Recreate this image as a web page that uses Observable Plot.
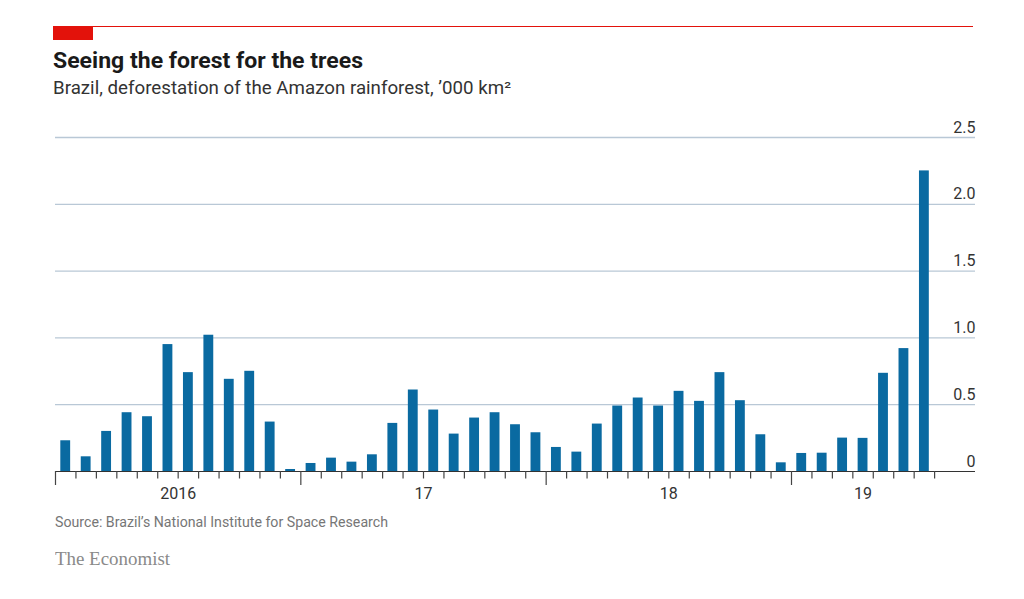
<!DOCTYPE html>
<html>
<head>
<meta charset="utf-8">
<script src="https://cdn.jsdelivr.net/npm/d3@7"></script>
<script src="https://cdn.jsdelivr.net/npm/@observablehq/plot@0.6"></script>
<style>
  html, body { margin: 0; padding: 0; background: #fff; }
  body { width: 1024px; height: 599px; position: relative; overflow: hidden; font-family: Roboto, "Noto Sans", sans-serif; }
  .abs { position: absolute; white-space: nowrap; transform-origin: left top; }
  #redline { left: 53px; top: 26px; width: 920px; height: 1px; background: #E3120B; }
  #redbox { left: 53px; top: 26px; width: 40px; height: 14px; background: #E3120B; }
  #title { left: 53px; top: 50px; font-size: 22px; line-height: 22px; font-weight: 700; color: #1a1a1a; }
  #subtitle { left: 53px; top: 79.5px; font-size: 17.5px; line-height: 17.5px; color: #333; }
  #source { left: 55px; top: 514.5px; font-size: 15.5px; line-height: 15.5px; color: #767676; }
  #brand { left: 55px; top: 549px; font-size: 19px; line-height: 19px; color: #8a8a8a; font-family: "Liberation Serif", "DejaVu Serif", serif; }
  #chart { position: absolute; left: 0; top: 110px; }
</style>
</head>
<body>
<div class="abs" id="redline"></div>
<div class="abs" id="redbox"></div>
<div class="abs" id="title">Seeing the forest for the trees</div>
<div class="abs" id="subtitle">Brazil, deforestation of the Amazon rainforest, ’000 km²</div>
<div id="chart"></div>
<div class="abs" id="source">Source: Brazil’s National Institute for Space Research</div>
<div class="abs" id="brand">The Economist</div>
<script>
const months = [
  "2016-01","2016-02","2016-03","2016-04","2016-05","2016-06","2016-07","2016-08","2016-09","2016-10","2016-11","2016-12",
  "2017-01","2017-02","2017-03","2017-04","2017-05","2017-06","2017-07","2017-08","2017-09","2017-10","2017-11","2017-12",
  "2018-01","2018-02","2018-03","2018-04","2018-05","2018-06","2018-07","2018-08","2018-09","2018-10","2018-11","2018-12",
  "2019-01","2019-02","2019-03","2019-04","2019-05","2019-06","2019-07"
];
const deforestation = [
  0.23, 0.11, 0.30, 0.44, 0.41, 0.95, 0.74, 1.02, 0.69, 0.75, 0.37, 0.015,
  0.06, 0.10, 0.07, 0.125, 0.36, 0.61, 0.46, 0.28, 0.40, 0.44, 0.35, 0.29,
  0.18, 0.145, 0.355, 0.49, 0.55, 0.49, 0.60, 0.525, 0.74, 0.53, 0.275, 0.065,
  0.135, 0.137, 0.25, 0.248, 0.735, 0.92, 2.25
];
const yTicks = [0, 0.5, 1, 1.5, 2, 2.5];
const yTickLabels = ["0", "0.5", "1.0", "1.5", "2.0", "2.5"];
const years = ["2016", "2017", "2018", "2019"];
const yearLabels = ["2016", "17", "18", "19"];

const start = months[0].split("-").map(Number);
const data = months.map((m, k) => {
  const [yy, mm] = m.split("-").map(Number);
  const i = (yy - start[0]) * 12 + (mm - start[1]);
  return { month: m, year: String(yy), i, value: deforestation[k] };
});
const n = data.length;
const monthTicks = d3.range(0, n + 1);
const yearStartTicks = data.filter(d => d.month.endsWith("-01")).map(d => d.i);
const yearCenters = years.map(y => {
  const ds = data.filter(d => d.year === y);
  return (d3.min(ds, d => d.i) + d3.max(ds, d => d.i) + 1) / 2;
});

const chart = Plot.plot({
  width: 1024,
  height: 400,
  marginLeft: 55,
  marginRight: 49,
  marginTop: 27,
  marginBottom: 39,
  style: { fontFamily: "Roboto, 'Noto Sans', sans-serif", fontSize: "16px", background: "transparent" },
  x: { type: "linear", domain: [0, n + 2], axis: null, label: null },
  y: { domain: [0, 2.5], axis: null, label: null },
  marks: [
    Plot.ruleY(yTicks.filter(d => d > 0), { stroke: "#b9c8d6", strokeWidth: 1.3 }),
    Plot.rectY(data, { x1: "i", x2: d => d.i + 1, y: "value", fill: "#0a6aa1", insetLeft: 5.3, insetRight: 5.3 }),
    Plot.ruleY([0], { stroke: "#333", strokeWidth: 1.2 }),
    Plot.axisX({ ticks: monthTicks.filter(t => !yearStartTicks.includes(t)), tickSize: 7.5, tickFormat: () => "", stroke: "#444", strokeWidth: 1.2, label: null }),
    Plot.axisX({ ticks: yearStartTicks, tickSize: 14, tickFormat: () => "", stroke: "#444", strokeWidth: 1.2, label: null }),
    Plot.axisX({ ticks: yearCenters, tickSize: 0, tickPadding: 16, tickFormat: (d, k) => yearLabels[k], fill: "#333", fontSize: 16, label: null }),
    Plot.text(yTicks, { y: d => d, text: (d, k) => yTickLabels[k], frameAnchor: "right", textAnchor: "end", dy: -10, fill: "#333", fontSize: 16 })
  ]
});
document.getElementById("chart").appendChild(chart);

function fitWidth(id, w) {
  const el = document.getElementById(id);
  const r = el.getBoundingClientRect().width;
  if (r > 0) el.style.transform = `scaleX(${w / r})`;
}
fitWidth("title", 310);
fitWidth("subtitle", 458);
fitWidth("source", 333);
fitWidth("brand", 115);
</script>
</body>
</html>
